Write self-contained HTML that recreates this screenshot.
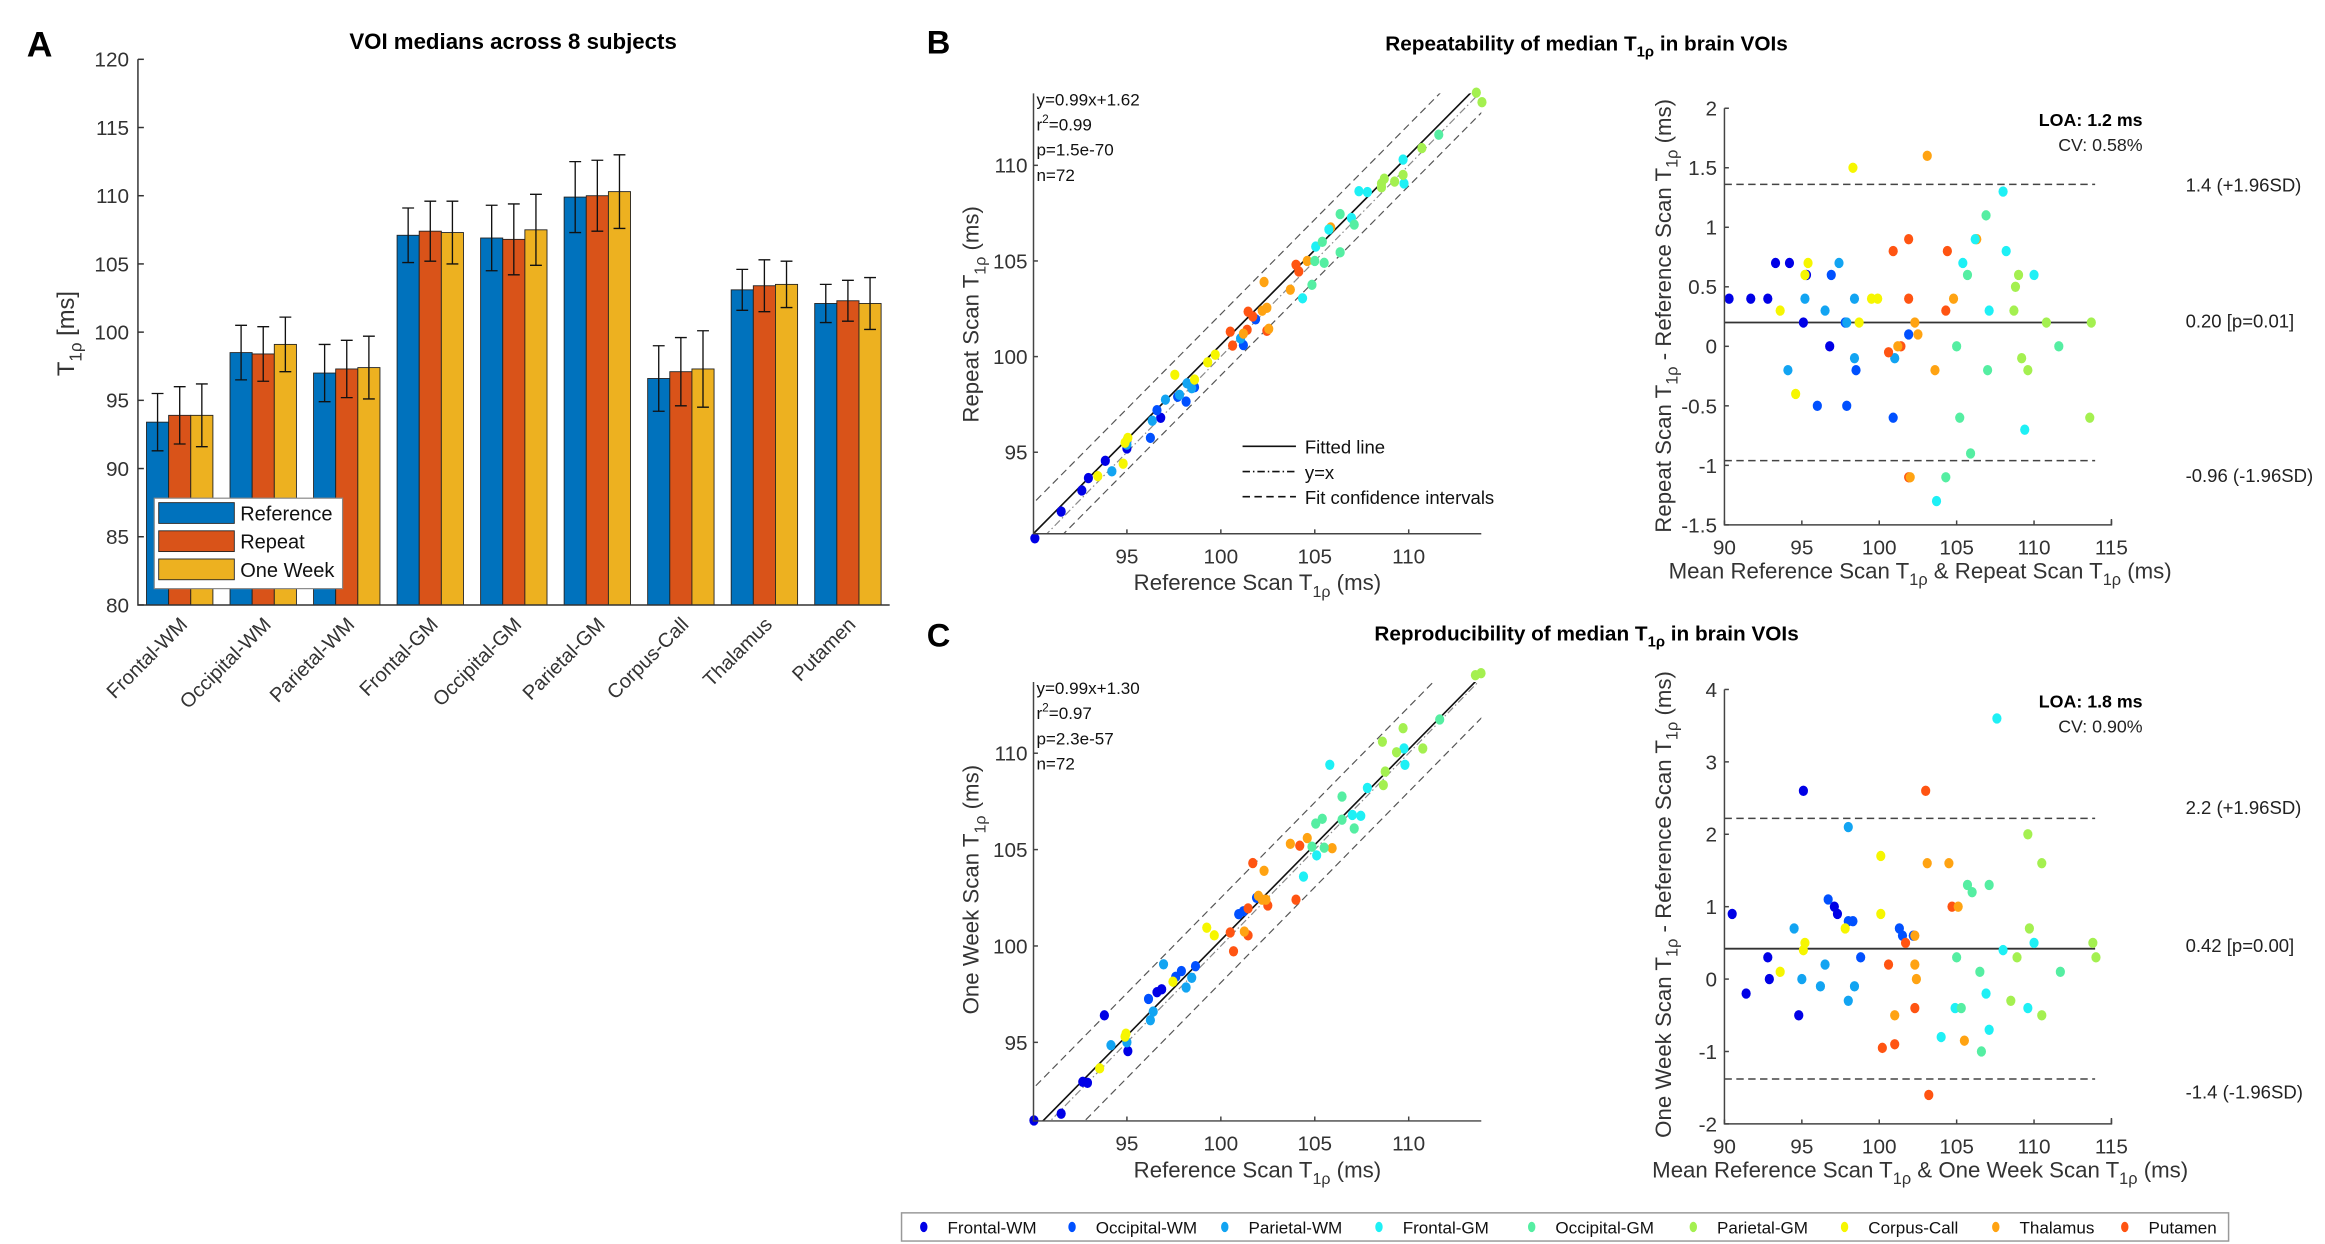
<!DOCTYPE html>
<html><head><meta charset="utf-8"><style>
html,body{margin:0;padding:0;background:#fff;}
svg{display:block;font-family:"Liberation Sans",sans-serif;}
</style></head><body>
<svg id="fig" width="2325" height="1244" viewBox="0 0 1568 839" xmlns="http://www.w3.org/2000/svg"></svg>
<script>
// ---- Panel A data ----
const barCats = ["Frontal-WM","Occipital-WM","Parietal-WM","Frontal-GM","Occipital-GM","Parietal-GM","Corpus-Call","Thalamus","Putamen"];
const refMed = [93.4,98.5,97.0,107.1,106.9,109.9,96.6,103.1,102.1];
const repMed = [93.9,98.4,97.3,107.4,106.8,110.0,97.1,103.4,102.3];
const owMed  = [93.9,99.1,97.4,107.3,107.5,110.3,97.3,103.5,102.1];
const refErr = [2.1,2.0,2.1,2.0,2.4,2.6,2.4,1.5,1.4];
const repErr = [2.1,2.0,2.1,2.2,2.6,2.6,2.5,1.9,1.5];
const owErr  = [2.3,2.0,2.3,2.3,2.6,2.7,2.8,1.7,1.9];
const barTicks = [80,85,90,95,100,105,110,115,120];
// ---- regions ----
const regionNames = ["Frontal-WM","Occipital-WM","Parietal-WM","Frontal-GM","Occipital-GM","Parietal-GM","Corpus-Call","Thalamus","Putamen"];
const regionColors = ["#0000e6","#0050ff","#12a4f2","#1ef0f5","#55eea2","#a4f050","#f6f600","#ffa312","#ff5412"];
// ---- Bland-Altman 1 (repeat vs reference): mean, diff, region index ----
const ba1Mean = [90.3,91.7,92.8,93.3,94.2,95.1,95.3,96.8, 96.9,96.0,97.9,98.5,100.9,101.9,97.8, 94.1,95.2,96.5,97.4,98.4,98.4,101.0,97.9, 93.6,94.6,95.2,95.4,98.3,98.7,99.5,99.9, 100.6,100.9,101.4,101.9,101.9,101.9,104.3,104.4, 101.2,102.3,102.5,103.1,103.6,104.8,106.3,102.0, 103.7,105.4,106.2,107.1,108.0,108.2,109.4,110.0, 104.3,105.0,105.2,105.7,105.9,106.9,107.0,111.6, 108.7,108.8,109.0,109.2,110.8,113.6,113.7,109.6];
const ba1Diff = [0.4,0.4,0.4,0.7,0.7,0.2,0.6,0.0, 0.6,-0.5,-0.5,-0.2,-0.6,0.1,0.2, -0.2,0.4,0.3,0.7,0.4,-0.1,-0.1,0.2, 0.3,-0.4,0.6,0.7,1.5,0.2,0.4,0.4, -0.05,0.8,0.0,0.9,0.4,-1.1,0.3,0.8, 0.0,0.2,0.1,1.6,-0.2,0.4,0.9,-1.1, -1.3,0.7,0.9,0.3,1.3,0.8,-0.7,0.6, -1.1,0.0,-0.6,0.6,-0.9,1.1,-0.2,0.0, 0.3,0.5,0.6,-0.1,0.2,-0.6,0.2,-0.2];
const ba1Reg = [0,0,0,0,0,0,0,0, 1,1,1,1,1,1,1, 2,2,2,2,2,2,2,2, 6,6,6,6,6,6,6,6, 8,8,8,8,8,8,8,8, 7,7,7,7,7,7,7,7, 3,3,3,3,3,3,3,3, 4,4,4,4,4,4,4,4, 5,5,5,5,5,5,5,5];
// ---- Bland-Altman 2 (one week vs reference) ----
const ba2Mean = [90.5,91.4,92.8,92.9,94.8,95.1,97.3,97.1, 96.7,98.0,98.3,101.3,101.5,102.2,98.8, 94.5,95.0,96.5,96.2,98.0,98.0,98.4, 93.6,95.1,95.2,97.8,100.1,100.1, 100.2,100.6,101.0,101.7,102.3,103.0,103.2,104.7, 101.0,102.3,102.3,102.4,103.1,104.5,105.1,105.5, 104.0,104.9,106.9,107.1,107.6,108.0,109.6,110.0, 105.0,105.3,105.7,106.0,106.5,106.6,107.1,111.7, 108.5,108.9,109.6,109.7,110.5,110.5,113.8,114.0];
const ba2Diff = [0.9,-0.2,0.3,0.0,-0.5,2.6,0.9,1.0, 1.1,0.8,0.8,0.7,0.6,0.6,0.3, 0.7,0.0,0.2,-0.1,2.1,-0.3,-0.1, 0.1,0.4,0.5,0.7,1.7,0.9, -0.95,0.2,-0.9,0.5,-0.4,2.6,-1.6,1.0, -0.5,0.6,0.2,0.0,1.6,1.6,1.0,-0.85, -0.8,-0.4,-0.2,-0.7,3.6,0.4,-0.4,0.5, 0.3,-0.4,1.3,1.2,0.1,-1.0,1.3,0.1, -0.3,0.3,2.0,0.7,-0.5,1.6,0.5,0.3];
const ba2Reg = [0,0,0,0,0,0,0,0, 1,1,1,1,1,1,1, 2,2,2,2,2,2,2, 6,6,6,6,6,6, 8,8,8,8,8,8,8,8, 7,7,7,7,7,7,7,7, 3,3,3,3,3,3,3,3, 4,4,4,4,4,4,4,4, 5,5,5,5,5,5,5,5];
const scatTicks = [95,100,105,110];
const baXTicks = [90,95,100,105,110,115];
const ba1YTicks = [-1.5,-1,-0.5,0,0.5,1,1.5,2];
const ba2YTicks = [-2,-1,0,1,2,3,4];
const ba1Lines = [1.36,0.20,-0.96];
const ba2Lines = [2.22,0.42,-1.38];
const fit1 = [0.99,1.62]; const fit2 = [0.99,1.30];

const NS="http://www.w3.org/2000/svg";
const svg=document.getElementById('fig');
function el(tag,attrs,parent){const e=document.createElementNS(NS,tag);for(const k in attrs)e.setAttribute(k,attrs[k]);(parent||svg).appendChild(e);return e;}
function txt(s,x,y,size,anchor,parent,extra){const t=el('text',Object.assign({x:x,y:y,'font-size':size,'text-anchor':anchor||'start',fill:'#222'},extra||{}),parent);t.textContent=s;return t;}
function tLabel(parent,x,y,size,pre,post,rot,name){
  const t=el('text',{x:x,y:y,'font-size':size,'text-anchor':'middle',fill:'#333'},parent);
  if(rot)t.setAttribute('transform','rotate(-90 '+x+' '+y+')');
  
  
  let a=el('tspan',{},t);a.textContent=pre+'T';
  let b=el('tspan',{dy:size*0.3,'font-size':size*0.72},t);b.textContent='1ρ';
  let c=el('tspan',{dy:-size*0.3},t);c.textContent=post;
  return t;
}

// ================= Panel A =================
const gA=el('g',{});


const AX0=93,AX1=600,AY0=40,AY1=408;
const ay=v=>AY1-(v-80)/(120-80)*(AY1-AY0);
const gW=(AX1-AX0)/barCats.length;
const ax=i=>AX0+gW*(i+0.5);
let pa=txt('A',18,38,24,'start',gA,{'font-weight':'bold',fill:'#000'});

let ta=txt('VOI medians across 8 subjects',346,33,15,'middle',gA,{'font-weight':'bold',fill:'#000'});

const series=[[refMed,refErr,'#0072bd','reference'],[repMed,repErr,'#d95319','repeat'],[owMed,owErr,'#edb120','one-week']];
const bw=gW*0.265;
barCats.forEach((c,i)=>{
  series.forEach((s,j)=>{
    const x=ax(i)+(j-1)*bw-bw/2;
    const r=el('rect',{x:x,y:ay(s[0][i]),width:bw,height:ay(80)-ay(s[0][i]),fill:s[2],stroke:'#222','stroke-width':0.6},gA);
    
    
    const cx=x+bw/2,t=ay(s[0][i]+s[1][i]),b=ay(s[0][i]-s[1][i]);
    const e=el('path',{d:`M${cx} ${t}V${b}M${cx-4} ${t}H${cx+4}M${cx-4} ${b}H${cx+4}`,stroke:'#111','stroke-width':0.9,fill:'none'},gA);
    
    
  });
  const lx=ax(i)+6,ly=AY1+14;
  const l=txt(c,lx,ly,13.5,'end',gA,{transform:`rotate(-45 ${lx} ${ly})`,fill:'#333'});
  
  
});
el('path',{d:`M${AX0} ${AY0}V${AY1}H${AX1}`,stroke:'#333','stroke-width':1,fill:'none'},gA);
barTicks.forEach(v=>{
  el('line',{x1:AX0,x2:AX0+4,y1:ay(v),y2:ay(v),stroke:'#333'},gA);
  const t=txt(String(v),AX0-6,ay(v)+5,14,'end',gA,{fill:'#333'});
  
  
});
tLabel(gA,50,225,16,'',' [ms]',true,'y-axis-title-a');
const lg=el('g',{},gA);


el('rect',{x:104,y:336,width:127,height:61,fill:'#fff',stroke:'#888','stroke-width':0.8},lg);
['Reference','Repeat','One Week'].forEach((n,j)=>{
  el('rect',{x:107,y:339+j*19,width:51,height:14,fill:series[j][2],stroke:'#222','stroke-width':0.6},lg);
  const t=txt(n,162,351+j*19,13.5,'start',lg,{fill:'#111'});
  
  
});

// ================= Scatter & BA =================
function scatter(cfg){
  const g=el('g',{});
  
  
  const xs=v=>760+(v-95)*cfg.xk, ys=v=>cfg.y95-(v-95)*cfg.yk;
  const X0=697,X1=999,Y0=cfg.top,Y1=cfg.bot;
  const xmin=90.05,xmax=113.9;
  const cp=el('clipPath',{id:cfg.name+'-clip'},g);
  el('rect',{x:X0,y:Y0,width:X1-X0,height:Y1-Y0},cp);
  const inner=el('g',{'clip-path':`url(#${cfg.name}-clip)`},g);
  const yx=el('line',{x1:xs(xmin),y1:ys(xmin),x2:xs(xmax),y2:ys(xmax),stroke:'#888','stroke-width':0.8,'stroke-dasharray':'5 2 1 2'},inner);
  
  [cfg.ci,-cfg.ci].forEach(o=>{
    const l=el('line',{x1:xs(xmin-3),y1:ys(cfg.fit[0]*(xmin-3)+cfg.fit[1]+o),x2:xs(xmax+3),y2:ys(cfg.fit[0]*(xmax+3)+cfg.fit[1]+o),stroke:'#555','stroke-width':0.8,'stroke-dasharray':'5 3'},inner);
    
  });
  const fl=el('line',{x1:xs(xmin),y1:ys(cfg.fit[0]*xmin+cfg.fit[1]),x2:xs(xmax),y2:ys(cfg.fit[0]*xmax+cfg.fit[1]),stroke:'#111','stroke-width':1.1},inner);
  
  cfg.mean.forEach((m,i)=>{
    const x=m-cfg.diff[i]/2,y=m+cfg.diff[i]/2;
    const c=el('ellipse',{cx:xs(x),cy:ys(y),rx:3.1,ry:3.5,fill:regionColors[cfg.reg[i]]},g);
    
    
  });
  el('path',{d:`M${X0} ${Y0}V${Y1}H${X1}`,stroke:'#444','stroke-width':1,fill:'none'},g);
  scatTicks.forEach(v=>{
    el('line',{x1:xs(v),x2:xs(v),y1:Y1,y2:Y1-3,stroke:'#444'},g);
    el('line',{x1:X0,x2:X0+3,y1:ys(v),y2:ys(v),stroke:'#444'},g);
    const a=txt(String(v),xs(v),Y1+20,14,'middle',g,{fill:'#333'});
    
    const b=txt(String(v),X0-4,ys(v)+5,14,'end',g,{fill:'#333'});
    
  });
  cfg.stats.forEach((s,i)=>{
    const t=txt('',699,Y0+8+i*17,11.5,'start',g,{fill:'#111'});
    
    if(s==='r2'){const a=el('tspan',{},t);a.textContent='r';const b=el('tspan',{dy:-5,'font-size':8},t);b.textContent='2';const c=el('tspan',{dy:5},t);c.textContent='='+cfg.r2;}
    else t.textContent=s;
  });
  tLabel(g,848,cfg.bot+38,15,'Reference Scan ',' (ms)',false,'x-axis-title');
  tLabel(g,660,cfg.ylabY,15,cfg.ylab,' (ms)',true,'y-axis-title');
  return g;
}
function ba(cfg){
  const g=el('g',{});
  
  
  const X0=1163,X1=1424;
  const xs=v=>X0+(v-90)/25*(X1-X0);
  const ys=v=>cfg.bot-(v-cfg.ymin)/(cfg.ymax-cfg.ymin)*(cfg.bot-cfg.top);
  cfg.lines.forEach((v,i)=>{
    const l=el('line',{x1:X0,x2:1413,y1:ys(v),y2:ys(v),stroke:i===1?'#333':'#444','stroke-width':i===1?1.2:1,'stroke-dasharray':i===1?'':'5 3'},g);
    
    
  });
  cfg.lineLabels.forEach((s,i)=>{
    const t=txt(s,1474,cfg.lineLabelY[i],12.5,'start',g,{fill:'#222'});
    
  });
  cfg.mean.forEach((m,i)=>{
    const c=el('ellipse',{cx:xs(m),cy:ys(cfg.diff[i]),rx:3.1,ry:3.5,fill:regionColors[cfg.reg[i]]},g);
    
    
  });
  el('path',{d:`M${X0} ${cfg.top}V${cfg.bot}H${X1}V${cfg.bot-4}`,stroke:'#444','stroke-width':1,fill:'none'},g);
  baXTicks.forEach(v=>{
    el('line',{x1:xs(v),x2:xs(v),y1:cfg.bot,y2:cfg.bot-3,stroke:'#444'},g);
    const a=txt(String(v),xs(v),cfg.bot+20,14,'middle',g,{fill:'#333'});
    
  });
  cfg.yticks.forEach(v=>{
    el('line',{x1:X0,x2:X0+3,y1:ys(v),y2:ys(v),stroke:'#444'},g);
    const b=txt(String(v),X0-5,ys(v)+5,14,'end',g,{fill:'#333'});
    
  });
  const loa=txt(cfg.loa,1445,cfg.top+12,12,'end',g,{'font-weight':'bold',fill:'#000'});
  
  const cv=txt(cfg.cv,1445,cfg.top+29,12,'end',g,{fill:'#222'});
  
  const xl=el('text',{x:1295,y:cfg.bot+36,'font-size':15,'text-anchor':'middle',fill:'#333'},g);
  
  [['Mean Reference Scan T',0],['1ρ',1],[' & '+cfg.xname+' Scan T',0],['1ρ',2],[' (ms)',3]].forEach(p=>{
    const at=p[1]===1||p[1]===2?{dy:4.5,'font-size':11}:(p[1]===0&&p[0].startsWith(' ')?{dy:-4.5}:(p[1]===3?{dy:-4.5}:{}));
    const s=el('tspan',at,xl);s.textContent=p[0];
  });
  const YX=1127;
  const yl=el('text',{x:YX,y:cfg.ylabY,'font-size':15,'text-anchor':'middle',fill:'#333',transform:`rotate(-90 ${YX} ${cfg.ylabY})`},g);
  
  [[cfg.yname+' Scan T',{}],['1ρ',{dy:4.5,'font-size':11}],[' - Reference Scan T',{dy:-4.5}],['1ρ',{dy:4.5,'font-size':11}],[' (ms)',{dy:-4.5}]].forEach(p=>{
    const s=el('tspan',p[1],yl);s.textContent=p[0];
  });
}

// Panel B
let pb=txt('B',625,36,22,'start',svg,{'font-weight':'bold',fill:'#000'});

let tb=el('text',{x:1070,y:34,'font-size':14,'text-anchor':'middle','font-weight':'bold',fill:'#000'});

tb.innerHTML='Repeatability of median T<tspan dy="4" font-size="10">1ρ</tspan><tspan dy="-4"> in brain VOIs</tspan>';
scatter({name:'scatter-repeatability',xk:12.67,yk:12.9,y95:305,top:63,bot:360,fit:fit1,ci:1.6,mean:ba1Mean,diff:ba1Diff,reg:ba1Reg,
  stats:['y=0.99x+1.62','r2','p=1.5e-70','n=72'],r2:'0.99',ylab:'Repeat Scan ',ylabY:212});
const ll=el('g',{});


[['Fitted line',''],['y=x','5 2 1 2'],['Fit confidence intervals','5 3']].forEach((p,i)=>{
  el('line',{x1:838,x2:874,y1:301+i*17,y2:301+i*17,stroke:'#111','stroke-width':1.1,'stroke-dasharray':p[1]},ll);
  const t=txt(p[0],880,306+i*17,12.5,'start',ll,{fill:'#111'});
  
});
ba({name:'bland-altman-repeatability',top:73,bot:354,ymin:-1.5,ymax:2,yticks:ba1YTicks,lines:ba1Lines,
  lineLabels:['1.4 (+1.96SD)','0.20 [p=0.01]','-0.96 (-1.96SD)'],lineLabelY:[129,221,325],
  mean:ba1Mean,diff:ba1Diff,reg:ba1Reg,loa:'LOA: 1.2 ms',cv:'CV: 0.58%',xname:'Repeat',yname:'Repeat',ylabY:213});

// Panel C
let pc=txt('C',625,436,22,'start',svg,{'font-weight':'bold',fill:'#000'});

let tc=el('text',{x:1070,y:432,'font-size':14,'text-anchor':'middle','font-weight':'bold',fill:'#000'});

tc.innerHTML='Reproducibility of median T<tspan dy="4" font-size="10">1ρ</tspan><tspan dy="-4"> in brain VOIs</tspan>';
scatter({name:'scatter-reproducibility',xk:12.67,yk:13.0,y95:703,top:460,bot:756,fit:fit2,ci:2.2,mean:ba2Mean,diff:ba2Diff,reg:ba2Reg,
  stats:['y=0.99x+1.30','r2','p=2.3e-57','n=72'],r2:'0.97',ylab:'One Week Scan ',ylabY:600});
ba({name:'bland-altman-reproducibility',top:465,bot:758,ymin:-2,ymax:4,yticks:ba2YTicks,lines:ba2Lines,
  lineLabels:['2.2 (+1.96SD)','0.42 [p=0.00]','-1.4 (-1.96SD)'],lineLabelY:[549,642,741],
  mean:ba2Mean,diff:ba2Diff,reg:ba2Reg,loa:'LOA: 1.8 ms',cv:'CV: 0.90%',xname:'One Week',yname:'One Week',ylabY:610});

// Region legend
const rl=el('g',{});


el('rect',{x:608,y:818,width:895,height:19,fill:'#fff',stroke:'#999','stroke-width':1},rl);
const legX=[623,723,826,930,1033,1142,1244,1346,1433];
regionNames.forEach((n,i)=>{
  const d=el('ellipse',{cx:legX[i],cy:827.5,rx:2.5,ry:3.5,fill:regionColors[i]},rl);
  
  const t=txt(n,legX[i]+16,832,11.5,'start',rl,{fill:'#111'});
  
});
</script>
</body></html>
